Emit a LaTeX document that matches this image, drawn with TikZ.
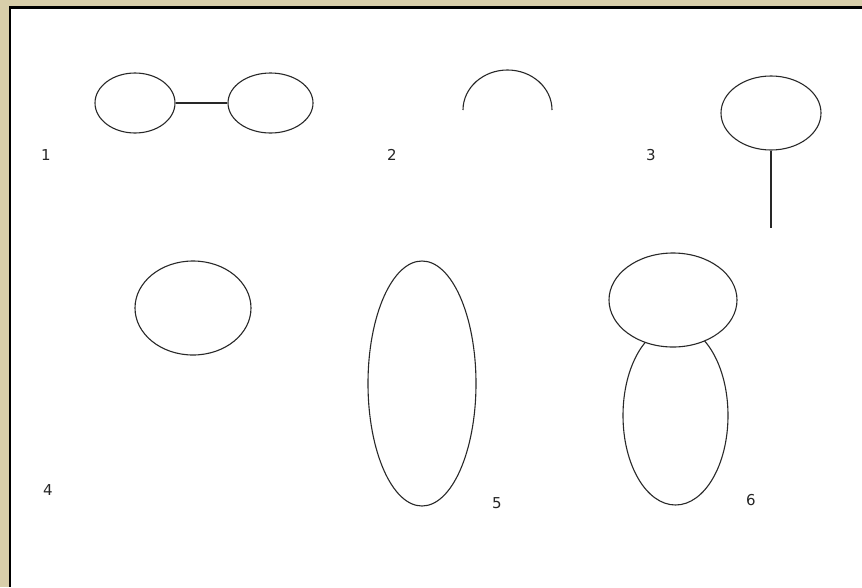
\documentclass[tikz,border=0pt]{standalone}
\usepackage{fontspec}
\setmainfont{DejaVu Sans}
\usepackage{xcolor}
\usetikzlibrary{shapes.geometric}
\definecolor{parchment}{RGB}{216,206,170}
\definecolor{inkgray}{RGB}{40,40,40}

\begin{document}
\begin{tikzpicture}[
  x=1pt, y=-1pt,
  blob/.style={draw=inkgray, ellipse, line width=1.1pt, inner sep=0pt,
               fill=white, minimum width=#1},
  num/.style={font=\fontsize{15}{17}\selectfont, text=black!85},
  ink/.style={draw=inkgray, line width=1.1pt}
]
  \useasboundingbox (0,0) rectangle (862,587);
  % page frame
  \fill[parchment] (0,0) rectangle (862,587);
  \fill[black] (8.5,6) rectangle (862,587);
  \fill[white] (11,8.5) rectangle (862,587);

  % 1: two ovals with a bar
  \node[blob=80pt, minimum height=60pt] (ovalL) at (135,103) {};
  \node[blob=85pt, minimum height=60pt] (ovalR) at (270.5,103) {};
  \draw[ink] (ovalL.east) -- (ovalR.west);
  \node[num] (lab1) at (46,155) {1};

  % 2: arch
  \coordinate (archL) at (463,110);
  \draw[ink] (archL) arc[start angle=180, end angle=0,
                         x radius=44.5pt, y radius=40pt];
  \node[num] (lab2) at (392,155) {2};

  % 3: oval on a stick
  \node[blob=100pt, minimum height=74pt] (ball) at (771,113) {};
  \coordinate (stickEnd) at (ball.south |- 0,228);
  \draw[ink] (ball.south) -- (stickEnd);
  \node[num] (lab3) at (651,155) {3};

  % 4: single oval
  \node[blob=116pt, minimum height=94pt] (round) at (193,308) {};
  \node[num] (lab4) at (48,490) {4};

  % 5: tall oval
  \node[blob=108pt, minimum height=245pt] (tall) at (422,383.5) {};
  \node[num] (lab5) at (497,503) {5};

  % 6: head over body
  \node[blob=105pt, minimum height=179pt] (body) at (675.5,415.5) {};
  \node[blob=128pt, minimum height=94pt] (head) at (673,300) {};
  \node[num] (lab6) at (751,500) {6};
\end{tikzpicture}
\end{document}
